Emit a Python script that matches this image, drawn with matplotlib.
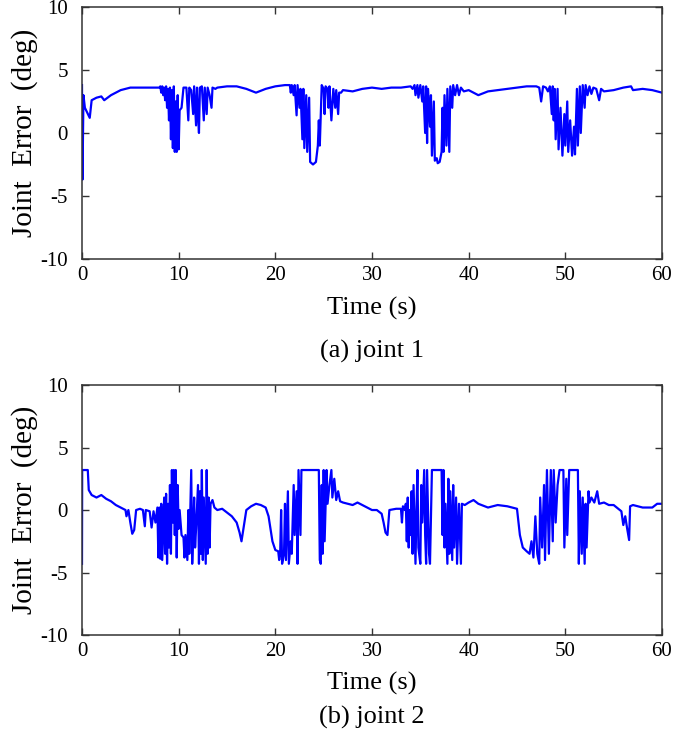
import matplotlib
matplotlib.use('Agg')
import matplotlib.pyplot as plt

# joint 1 error (deg)
t1 = [0, 0.05, 0.15, 0.3, 0.8, 1.0, 1.5, 2.0, 2.3, 3.0, 4.0, 5.0, 6.0, 7.0, 8.0,
      8.1, 8.2, 8.3, 8.4, 8.5, 8.6, 8.7, 8.8, 8.9, 9.0, 9.1, 9.2, 9.3, 9.4, 9.5, 9.6, 9.7, 9.8, 9.9, 10.0,
      10.1, 10.3, 10.5, 10.8, 11.0, 11.1, 11.3, 11.5, 11.6, 11.8, 11.9, 12.0, 12.1, 12.2, 12.4, 12.6, 12.7,
      12.9, 13.0, 13.2, 13.4, 13.5, 13.8, 14.0, 15.0, 16.0, 17.0, 18.0, 19.0, 20.0, 21.0,
      21.5, 21.6, 21.7, 21.9, 22.0, 22.2, 22.3, 22.5, 22.6, 22.8, 22.9, 23.0, 23.2, 23.3, 23.5, 23.6,
      23.9, 24.2, 24.4, 24.5, 24.6, 24.8, 25.0, 25.1, 25.2, 25.4, 25.5, 25.6, 25.8, 26.0, 26.2, 26.3,
      26.5, 26.6, 26.8, 27.0, 28.0, 29.0, 30.0, 31.0, 32.0, 33.0, 34.0,
      34.2, 34.4, 34.5, 34.7, 34.8, 35.0, 35.2, 35.3, 35.5, 35.6, 35.7, 35.8, 36.0, 36.1, 36.2, 36.4,
      36.5, 36.7, 36.8, 37.0, 37.2, 37.3, 37.4, 37.5, 37.7, 37.8, 38.0, 38.1, 38.3, 38.4, 38.6, 38.8,
      39.0, 39.2, 39.5, 40.0, 41.0, 42.0, 43.0, 44.0, 45.0, 46.0, 47.0,
      47.3, 47.5, 47.7, 48.0, 48.2, 48.4, 48.6, 48.7, 48.8, 48.9, 49.0, 49.2, 49.3, 49.5, 49.7, 49.9,
      50.0, 50.2, 50.3, 50.5, 50.7, 50.9, 51.0, 51.2, 51.3, 51.5, 51.6, 51.8, 52.0, 52.1, 52.3, 52.5,
      52.7, 52.9, 53.2, 53.5, 53.7, 54.0, 55.0, 56.0, 56.8, 57.0, 58.0, 59.0, 60.0]
e1 = [3.8, -3.7, 3.0, 2.0, 1.2, 2.6, 2.8, 2.9, 2.6, 3.0, 3.4, 3.6, 3.6, 3.6, 3.6,
      3.7, 3.2, 3.7, 3.0, 3.6, 2.6, 3.7, 2.0, 3.5, 1.0, 3.6, -0.5, 3.4, -1.2, 3.7, -1.5, 2.5, -1.5, 3.0, -1.3,
      1.8, 2.0, 3.6, 3.6, 1.0, 3.6, 3.4, 1.5, 3.7, 0.6, 3.6, 1.5, 0.0, 3.6, 3.7, 1.0, 3.6,
      1.5, 3.6, 3.0, 2.0, 3.6, 3.5, 3.6, 3.7, 3.7, 3.5, 3.2, 3.5, 3.7, 3.8,
      3.8, 3.2, 3.8, 3.0, 3.8, 1.4, 3.8, 2.0, 3.5, -0.5, 3.5, -1.2, 3.0, -1.5, 2.8, -2.3,
      -2.5, -2.3, -1.0, 1.0, -1.0, 3.8, 3.5, 1.5, 3.7, 3.5, 2.0, 3.7, 1.0, 3.5, 2.0, 3.4,
      1.5, 3.2, 3.2, 3.4, 3.3, 3.5, 3.6, 3.5, 3.6, 3.6, 3.7,
      3.5, 3.8, 3.0, 3.8, 2.8, 3.8, 2.5, 3.7, 0.0, 3.7, -0.8, 3.5, 0.5, 3.0, -1.8, 2.5,
      -2.2, -2.0, -2.4, -2.3, -1.5, 2.0, -1.5, 3.0, -1.0, 3.5, -1.5, 3.7, 2.0, 3.8, 3.0, 3.8,
      3.0, 3.6, 3.3, 3.4, 3.0, 3.3, 3.4, 3.5, 3.6, 3.7, 3.7,
      3.6, 2.5, 3.7, 3.6, 3.3, 3.7, 1.5, 3.7, 1.0, 3.5, -0.5, 3.5, -1.3, 2.0, -1.8, 1.5,
      -1.0, 2.5, -1.5, 1.0, -1.8, 0.5, -1.7, 3.5, -1.0, 3.7, 0.0, 3.8, 2.0, 3.8, 3.0, 3.7,
      3.1, 3.6, 3.5, 2.6, 3.5, 3.3, 3.4, 3.6, 3.7, 3.4, 3.5, 3.4, 3.2]

# joint 2 error (deg)
t2 = [0, 0.02, 0.6, 0.7, 1.0, 1.5, 2.0, 2.5, 3.0, 3.5, 4.0, 4.5, 4.6, 4.8, 5.0, 5.2, 5.4, 5.6,
      6.0, 6.3, 6.5, 6.6, 7.0, 7.2, 7.4, 7.6, 7.8,
      7.9, 8.0, 8.1, 8.2, 8.3, 8.5, 8.6, 8.7, 8.8, 8.9, 9.0, 9.1, 9.2, 9.3, 9.4, 9.5, 9.6, 9.7, 9.8,
      9.9, 10.0, 10.1, 10.3, 10.5, 10.6, 10.7, 10.9, 11.0, 11.1, 11.3, 11.4, 11.5, 11.6, 11.7, 11.8,
      12.0, 12.1, 12.2, 12.3, 12.4, 12.5, 12.6, 12.8, 12.9, 13.0, 13.1, 13.2, 13.3, 13.5, 13.7,
      14.0, 14.5, 15.0, 15.5, 16.0, 16.3, 16.5, 16.7, 17.0, 17.5, 18.0, 18.5, 19.0, 19.3, 19.7,
      20.0, 20.3, 20.4, 20.5, 20.6, 20.7, 20.9, 21.0, 21.1, 21.3, 21.4, 21.6, 21.7, 21.9, 22.0,
      22.2, 22.3, 22.4, 22.6, 22.7, 24.5, 24.6, 24.7, 24.8, 24.9, 25.0, 25.1, 25.3, 25.4, 25.6,
      25.8, 25.9, 26.1, 26.3, 26.5, 26.7, 27.0, 27.5, 28.0, 28.5, 29.0, 29.5, 30.0, 30.5, 31.0,
      31.2, 31.4, 31.6, 31.8, 32.5, 33.0, 33.1, 33.2, 33.4, 33.5,
      33.6, 33.7, 33.8, 33.9, 34.0, 34.1, 34.2, 34.3, 34.5, 34.6, 34.7, 34.8, 35.0, 35.1, 35.2,
      35.4, 35.5, 35.6, 35.7, 35.9, 36.0, 36.2, 37.2, 37.3, 37.4, 37.5, 37.6, 37.8, 37.9, 38.0,
      38.1, 38.3, 38.4, 38.5, 38.7, 38.8, 39.0, 39.2, 39.3, 39.6,
      40.0, 40.5, 41.0, 42.0, 43.0, 44.0, 45.0, 45.3, 45.6, 46.0, 46.3, 46.5, 46.7, 46.9, 47.1,
      47.3, 47.4, 47.6, 47.8, 47.9, 48.1, 48.3, 48.4, 48.5, 48.7, 48.8, 49.0, 49.2, 49.4, 49.8,
      49.9, 50.1, 50.2, 50.4, 50.6, 51.3, 51.4, 51.5, 51.7, 51.8, 52.0, 52.1, 52.2, 52.4, 52.5,
      52.7, 53.0, 53.3, 53.5, 54.0, 54.5, 55.0, 55.8, 56.0, 56.2, 56.4, 56.6, 56.7, 57.0, 58.0,
      59.0, 59.5, 60.0]
e2 = [-4.3, 3.2, 3.2, 1.6, 1.2, 1.0, 1.2, 0.9, 0.7, 0.4, 0.2, 0.0, -0.5, 0.0, -1.0, -1.9, -1.6, 0.0,
      0.1, 0.0, -1.3, 0.0, -0.1, -1.4, -0.1, -1.0, 0.2,
      -3.8, 0.2, -3.9, 0.5, -4.0, 1.0, -3.5, 1.3, -4.3, 0.5, -3.0, 2.0, -3.5, 3.2, -1.0, 3.2, -2.0, 3.2, -3.8,
      2.0, -1.5, 0.0, -2.0, -2.2, -3.8, -2.0, -4.0, 0.0, -3.5, 3.2, -4.3, -2.0, 1.0, -3.0, -1.5,
      2.0, -4.3, 1.5, -3.5, 3.2, -4.0, 1.0, -4.3, 3.2, -3.5, 1.0, -3.0, 0.5, 0.8, 0.2,
      0.0, 0.1, -0.2, -0.5, -1.0, -1.8, -2.5, -1.5, 0.0, 0.3, 0.5, 0.4, 0.2, -0.5, -2.5,
      -3.2, -3.3, -4.0, -3.5, 0.0, -4.3, -3.5, 0.5, -4.0, 1.5, -4.3, -2.5, -3.5, 2.0, -2.0,
      1.5, -4.3, 3.2, -2.0, 3.2, 3.2, -4.0, -4.3, 2.0, -3.5, 3.2, -2.5, 3.2, 0.5, 2.0,
      3.2, 1.0, 2.5, 0.8, 1.5, 0.7, 0.6, 0.5, 0.4, 0.6, 0.4, 0.2, 0.0, 0.0, -0.3,
      -1.0, -1.8, -2.0, 0.0, 0.1, 0.1, -1.0, 0.3, 0.0, 0.5,
      -2.5, 1.0, -3.0, 0.0, -2.0, 1.5, -3.5, 2.0, -4.3, 0.0, 3.2, -3.0, -4.3, 2.0, -1.0,
      3.2, -2.0, -4.3, 3.2, -3.5, -4.3, 3.2, 3.2, -2.0, 3.2, -3.0, 0.5, -4.3, 2.5, -3.5,
      1.5, -4.0, 2.0, -3.0, 1.0, -4.3, 0.5, -4.3, 0.5, 0.4,
      0.6, 0.8, 0.5, 0.2, 0.4, 0.3, 0.1, -2.0, -3.0, -3.3, -3.5, -2.5, -3.8, -0.5, -3.5,
      -4.3, 1.0, -3.0, 2.0, -4.0, 3.2, -3.5, 0.0, 3.2, -2.5, 3.2, -1.0, 2.0, 3.2, 3.2,
      -3.0, 2.5, -2.0, 3.2, 3.2, 3.2, -4.3, 1.5, -3.5, 1.0, -4.3, 0.5, -3.0, 1.5, 0.6,
      1.0, 0.6, 1.5, 0.5, 0.6, 0.4, 0.4, -0.1, -1.2, -0.5, -1.5, -2.4, 0.3, 0.4, 0.2,
      0.2, 0.5, 0.5]

yticks = [-10, -5, 0, 5, 10]
xticks = [0, 10, 20, 30, 40, 50, 60]
captions = ['(a) joint 1', '(b) joint 2']

plt.rcParams['font.family'] = ['Liberation Serif', 'DejaVu Serif']
plt.rcParams['axes.unicode_minus'] = False

fig = plt.figure(figsize=(6.85, 7.41), dpi=100)
ax1 = fig.add_axes([0.1197, 0.6505, 0.8467, 0.3401])
ax2 = fig.add_axes([0.1197, 0.1430, 0.8467, 0.3374])

for ax, t, e, cap, cap_y in [(ax1, t1, e1, captions[0], -0.365), (ax2, t2, e2, captions[1], -0.33)]:
    ax.plot(t, e, color='#0000ff', lw=1.6)
    ax.set_xlim(0, 60)
    ax.set_ylim(-10, 10)
    ax.set_xticks(xticks)
    ax.set_yticks(yticks)
    ax.set_yticklabels([str(v) for v in yticks])
    ax.tick_params(direction='in', top=True, right=True, length=5, width=1,
                   labelsize=15, color='#333333')
    ax.tick_params(axis='x', pad=5)
    ax.tick_params(axis='y', pad=10)
    for s in ax.spines.values():
        s.set_color('#333333')
        s.set_linewidth(1.1)
    ax.set_ylabel('Joint  Error  (deg)', fontsize=21, labelpad=2)
    ax.text(0.5, -0.195, 'Time (s)', transform=ax.transAxes, ha='center', va='center', fontsize=19)
    ax.text(0.5, cap_y, cap, transform=ax.transAxes, ha='center', va='center', fontsize=19)

plt.savefig('out.png', dpi=100)
